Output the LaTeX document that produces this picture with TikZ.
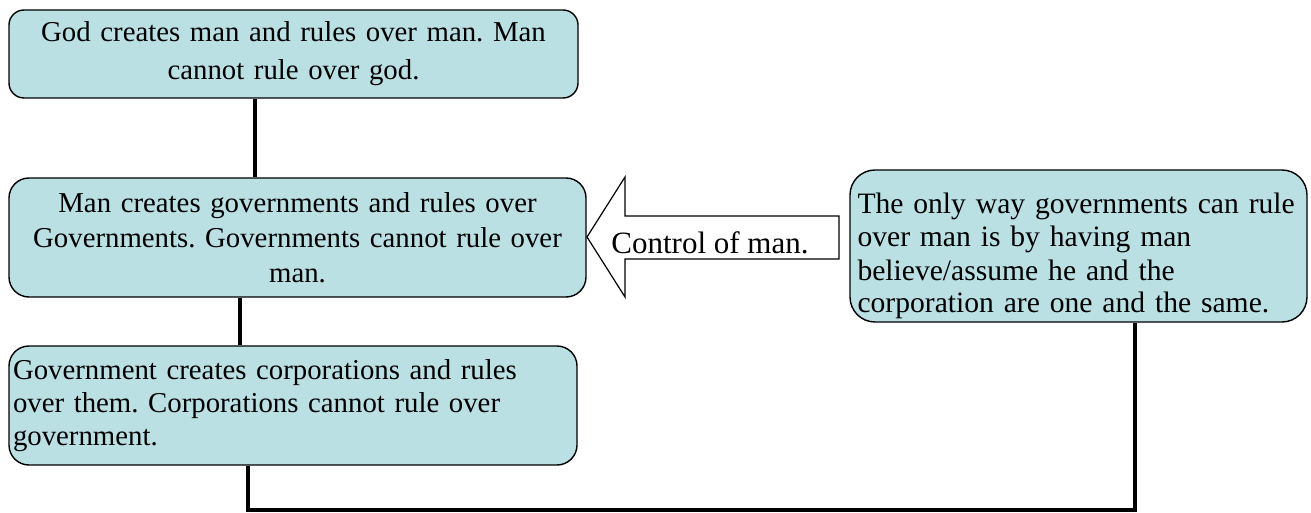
\documentclass[tikz,border=0pt]{standalone}
\usepackage{fontspec}
\setmainfont{Liberation Serif}
\usetikzlibrary{positioning}
\definecolor{boxfill}{RGB}{187,224,228}
\tikzset{
    box/.style={
        draw,
        fill=boxfill,
        line width=0.7pt,
        inner sep=0pt,
        font=\fontsize{14.4}{16.5}\selectfont
    },
    link/.style={line width=2pt},
    blockarrow/.style={draw, fill=white, line width=0.6pt}
}

\begin{document}
\frenchspacing
\begin{tikzpicture}[
    x=0.5pt,
    y=-0.5pt
]
    \useasboundingbox (0,0) rectangle (1311,513);

    % Stufen
    \node[box, rounded corners=7.5pt, minimum width=284.5pt, minimum height=44pt,
          text width=280pt, align=center, font=\fontsize{14.4}{19}\selectfont] (god) at (293.5,54)
        {God creates man and rules over man. Man\\ cannot rule over god.};

    \node[box, rounded corners=10pt, minimum width=288.5pt, minimum height=59.5pt,
          text width=284pt, align=center, font=\fontsize{14.4}{17.5}\selectfont] (man) at (297.5,237.5)
        {Man creates governments and rules over\\ Governments. Governments cannot rule over\\ man.};

    \node[box, rounded corners=10pt, minimum width=284pt, minimum height=59.5pt,
          text width=280pt, align=left] (gov) at (293,405.5)
        {Government creates corporations and rules\\ over them. Corporations cannot rule over\\ government.};

    % Annahme
    \node[box, rounded corners=12.5pt, minimum width=228.5pt, minimum height=76pt,
          text width=221pt, align=left, text height=21pt, text depth=53pt,
          font=\fontsize{14.8}{16.5}\selectfont] (way) at (1078.5,246)
        {The only way governments can rule\\ over man is by having man\\ believe/assume he and the\\ corporation are one and the same.};

    % Pfeil
    \draw[blockarrow] (587,237) -- (625,177) -- (625,216) -- (839,216)
        -- (839,259) -- (625,259) -- (625,297) -- cycle;
    \node[font=\fontsize{15.5}{17}\selectfont, inner sep=0pt] (ctrl) at (710,243) {Control of man.};

    % Verbindungen
    \coordinate (c1) at (255,0);
    \coordinate (c2) at (240,0);
    \coordinate (c3) at (248,0);
    \coordinate (jb) at (1135,510);
    \draw[link] (god.south -| c1) -- (man.north -| c1);
    \draw[link] (man.south -| c2) -- (gov.north -| c2);
    \draw[link] (gov.south -| c3) |- (jb) -- (way.south -| jb);

\end{tikzpicture}
\end{document}
